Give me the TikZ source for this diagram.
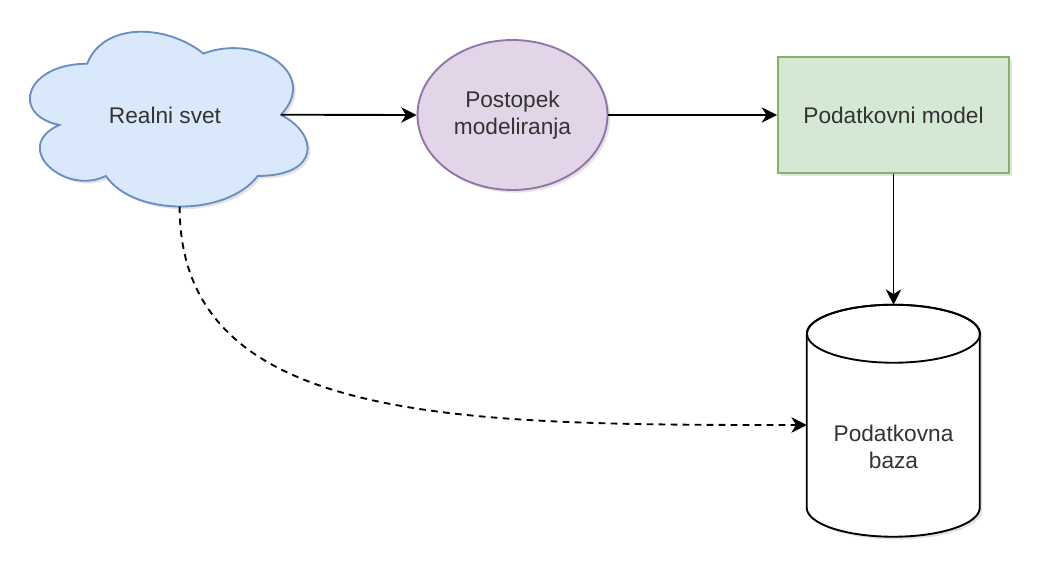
\documentclass[tikz,border=0pt]{standalone}
\usepackage{fontspec}
\setmainfont{Liberation Sans}
\usetikzlibrary{calc, positioning}
\usetikzlibrary{arrows.meta}
\usetikzlibrary{shapes.geometric}
\usetikzlibrary{shadows, backgrounds}

\definecolor{worldfill}{HTML}{DAE8FC}
\definecolor{worldline}{HTML}{6C8EBF}
\definecolor{procfill}{HTML}{E1D5E7}
\definecolor{procline}{HTML}{9673A6}
\definecolor{modelfill}{HTML}{D5E8D4}
\definecolor{modelline}{HTML}{82B366}

\begin{document}
\begin{tikzpicture}[x=0.75pt, y=-0.75pt,
  every node/.style={font=\fontsize{17}{20.4}\selectfont, text=black!80, inner sep=0pt, align=center},
  outline/.style={line width=1.4pt},
  shade/.style={drop shadow={opacity=0.22, shadow xshift=2pt, shadow yshift=-2pt}},
  conn/.style={line width=1.4pt, -{Stealth[length=11.5pt, width=11.5pt, inset=3.5pt]}}]
\def\dbrx{64.875pt}
\def\dbry{21.75pt}
\useasboundingbox (0,0) rectangle (1042,574);

\node[minimum width=232.5pt, minimum height=153pt] (world) at (165,115) {Realni svet};
\node[ellipse, draw=procline, fill=procfill, outline, shade,
  minimum width=142.5pt, minimum height=112.5pt] (proc) at (512.5,115) {Postopek\\modeliranja};
\node[draw=modelline, fill=modelfill, outline, shade,
  minimum width=173.25pt, minimum height=87pt] (model) at (893.5,115) {Podatkovni model};
\node[minimum width=129.75pt, minimum height=174pt] (db) at (893.5,421) {};

% cloud, behind its label
\begin{scope}[on background layer, shift={(world.north west)}, x=232.5pt, y=-153pt]
  \filldraw[draw=worldline, fill=worldfill, outline, shade]
    (0.25,0.25) .. controls (0.05,0.25) and (0,0.5) .. (0.16,0.55)
    .. controls (0,0.66) and (0.18,0.9) .. (0.31,0.8)
    .. controls (0.4,1) and (0.7,1) .. (0.8,0.8)
    .. controls (1,0.8) and (1,0.6) .. (0.875,0.5)
    .. controls (1,0.3) and (0.8,0.1) .. (0.625,0.2)
    .. controls (0.5,0.05) and (0.3,0.05) .. (0.25,0.25) -- cycle;
  \coordinate (world-east) at (0.875,0.5);
  \coordinate (world-south) at (0.548,0.95);
\end{scope}

% cylinder
\filldraw[fill=white, outline, shade] (db.north west) ++(0,29) -- ++(0,174)
  arc[start angle=180, end angle=360, x radius=\dbrx, y radius=\dbry] -- ++(0,-174)
  arc[start angle=0, end angle=180, x radius=\dbrx, y radius=\dbry] -- cycle;
\draw[outline] ($(db.north)+(0,29)$) ellipse[x radius=\dbrx, y radius=\dbry];
\node (dbtext) at ($(db.center)+(0,26)$) {Podatkovna\\baza};
\coordinate (db-west) at ($(db.west)+(0,4)$);

\draw[conn] (world-east) -- (proc.west);
\draw[conn] (proc.east) -- (model.west);
\draw[conn] (model.south) -- (db.north);
\draw[conn, dash pattern=on 5pt off 4pt] (world-south) .. controls +(0,218) and +(-350,0) .. (db-west);
\end{tikzpicture}
\end{document}
